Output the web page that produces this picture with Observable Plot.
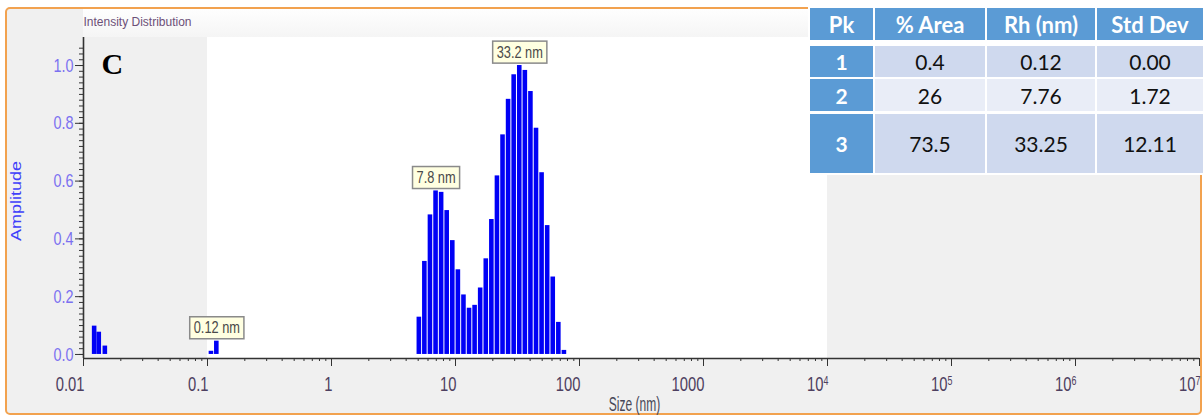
<!DOCTYPE html>
<html><head><meta charset="utf-8">
<script src="https://cdn.jsdelivr.net/npm/d3@7"></script>
<script src="https://cdn.jsdelivr.net/npm/@observablehq/plot@0.6"></script>
<style>
body{margin:0;background:#fff;}
#wrap{position:relative;width:1203px;height:417px;overflow:hidden;}
#frame{position:absolute;left:5px;top:7px;width:1197px;height:408px;box-sizing:border-box;border:2px solid #f2a24f;border-radius:5px;background:#f0f0f0;}
#strip{position:absolute;left:83px;top:9px;width:1117px;height:28px;background:linear-gradient(#fefefe,#f5f5f5);}
#chart{position:absolute;left:0;top:0;}
#tbl{position:absolute;left:808px;top:6px;width:395px;height:169px;background:#fff;}
.cell{position:absolute;display:flex;align-items:center;justify-content:center;font-family:Lato,"Open Sans",sans-serif;font-size:21px;color:#111;}
.hd{background:#5b9bd5;color:#fff;font-weight:bold;}
</style></head>
<body><div id="wrap"><div id="frame"></div><div id="strip"></div><div id="chart"></div><div id="tbl"></div></div>
<script>
// ---- data ----
const sizesNm = [0.0123, 0.0134, 0.0150, 0.1076, 0.1189,
  5.11, 5.66, 6.28, 6.97, 7.73, 8.57, 9.51, 10.55, 11.70, 12.98, 14.39, 15.96, 17.71, 19.64,
  21.79, 24.17, 26.80, 29.73, 32.98, 36.58, 40.57, 45.01, 49.92, 55.37, 61.42, 68.13, 75.56];
const amplitude = [0.098, 0.077, 0.029, 0.011, 0.046,
  0.129, 0.322, 0.483, 0.566, 0.561, 0.498, 0.394, 0.293, 0.206, 0.160, 0.170, 0.230, 0.331, 0.467,
  0.618, 0.760, 0.883, 0.968, 1.000, 0.983, 0.910, 0.783, 0.629, 0.446, 0.268, 0.111, 0.014];
const peakLabelSize = [0.1189, 6.97, 32.98];
const peakLabelAmp = [0.046, 0.566, 1.0];
const peakLabelText = ["0.12 nm", "7.8 nm", "33.2 nm"];
const xMajorTicks = [0.01, 0.1, 1, 10, 100, 1000, 1e4, 1e5, 1e6, 1e7];
const xTickLabels = ["0.01", "0.1", "1", "10", "100", "1000", "10^4", "10^5", "10^6", "10^7"];
const yMajorTicks = [0, 0.2, 0.4, 0.6, 0.8, 1.0];
const yTickLabels = ["0.0", "0.2", "0.4", "0.6", "0.8", "1.0"];
const whiteBand = [{x1: 0.1, x2: 1e4}];
const tableHeader = ["Pk", "% Area", "Rh (nm)", "Std Dev"];
const peakIds = ["1", "2", "3"];
const peakArea = ["0.4", "26", "73.5"];
const peakRh = ["0.12", "7.76", "33.25"];
const peakStd = ["0.00", "1.72", "12.11"];

// ---- chart ----
const xDomain = [0.01, 1e7];
const yDomain = [-0.014, 1.097];
const halfBin = Math.pow(10, 0.0225);
const bars = sizesNm.map((s, i) => ({size: s, amp: amplitude[i]}));
const peaks = peakLabelSize.map((s, i) => ({size: s, amp: peakLabelAmp[i], label: peakLabelText[i]}));
const xMinor = [];
for (let e = -2; e < 7; e++) for (let m = 2; m <= 9; m++) xMinor.push(m * Math.pow(10, e));
const yMinor = d3.range(0, 54).map(i => i * 0.02);
const xFmt = new Map(xMajorTicks.map((t, i) => [t, xTickLabels[i]]));
const yFmt = new Map(yMajorTicks.map((t, i) => [t, yTickLabels[i]]));

const svg = Plot.plot({
  width: 1203, height: 417,
  marginLeft: 83, marginRight: 4, marginTop: 37, marginBottom: 59,
  style: {background: "transparent", fontFamily: "'Liberation Sans', Arial, sans-serif", overflow: "visible"},
  x: {type: "log", domain: xDomain, label: null},
  y: {domain: yDomain, label: null},
  marks: [
    Plot.rect(whiteBand, {x1: "x1", x2: "x2", fill: "#ffffff"}),
    Plot.rectY(bars, {x1: d => d.size / halfBin, x2: d => d.size * halfBin, y: "amp", fill: "#0000f6", insetLeft: 0.5, insetRight: 0.5}),
    Plot.axisX(xMinor, {tickSize: 3, tickFormat: () => "", label: null, stroke: "#333"}),
    Plot.axisX(xMajorTicks, {tickSize: 8, tickPadding: 10, tickFormat: d => xFmt.get(d), textAnchor: "end", fontSize: 20, fill: "#4e4060", stroke: "#333", label: null}),
    Plot.axisY(yMinor, {tickSize: 4, tickFormat: () => "", label: null, stroke: "#333"}),
    Plot.axisY(yMajorTicks, {tickSize: 8, tickPadding: 2, tickFormat: d => yFmt.get(d), fontSize: 19, fill: "#7b70f0", stroke: "#333", label: null}),
    Plot.ruleX([xDomain[0]], {stroke: "#333", strokeWidth: 1.6}),
    Plot.ruleY([yDomain[0]], {stroke: "#333", strokeWidth: 1.6}),
    Plot.text(peaks, {x: "size", y: "amp", text: "label", dy: -13, fontSize: 16, fill: "#4a4a4a"}),
    Plot.text(["Size (nm)"], {text: d => d, frameAnchor: "bottom", textAnchor: "middle", lineAnchor: "middle", dx: -7, dy: 46, fontSize: 20, fill: "#474757"}),
    Plot.text(["Amplitude"], {text: d => d, frameAnchor: "left", textAnchor: "middle", lineAnchor: "middle", rotate: -90, dx: -67, dy: 3, fontSize: 18, fill: "#4040fa"}),
    Plot.text(["C"], {text: d => d, frameAnchor: "top-left", dx: 18, dy: 15, lineAnchor: "top", textAnchor: "start", fontSize: 30, fontWeight: "bold", fontFamily: "'Liberation Serif', 'Times New Roman', serif", fill: "#000"}),
    Plot.text(["Intensity Distribution"], {text: d => d, frameAnchor: "top-left", lineAnchor: "middle", textAnchor: "start", dy: -15, fontSize: 12, fill: "#6c5078"})
  ]
});
document.getElementById("chart").appendChild(svg);

// condensed look of the original fonts
function squeeze(el, extra) {
  const t = el.getAttribute("transform") || "";
  el.setAttribute("transform", (t + " " + extra).trim());
}
const allText = Array.from(svg.querySelectorAll("text"));
allText.forEach(el => {
  const s = el.textContent;
  if (xTickLabels.includes(s)) {
    if (s.includes("^")) {
      const [b, p] = s.split("^");
      el.textContent = "";
      const t1 = document.createElementNS("http://www.w3.org/2000/svg", "tspan"); t1.textContent = b;
      const t2 = document.createElementNS("http://www.w3.org/2000/svg", "tspan"); t2.textContent = p;
      t2.setAttribute("dy", "-0.45em"); t2.setAttribute("font-size", "0.6em");
      el.appendChild(t1); el.appendChild(t2);
    }
    squeeze(el, "translate(1,0) scale(0.74,1)");
  } else if (yTickLabels.includes(s)) {
    squeeze(el, "scale(0.76,1)");
  } else if (s === "Size (nm)") {
    squeeze(el, "scale(0.6,1)");
  } else if (s === "Amplitude") {
    squeeze(el, "scale(1,0.86)");
  } else if (peakLabelText.includes(s)) {
    squeeze(el, "scale(0.8,1)");
  }
});
// boxes behind peak labels
const sr = svg.getBoundingClientRect();
const peakTexts = allText.filter(el => peakLabelText.includes(el.textContent));
if (peakTexts.length) {
  const parentG = peakTexts[0].parentNode;
  const g = document.createElementNS("http://www.w3.org/2000/svg", "g");
  peakTexts.forEach(el => {
    const r = el.getBoundingClientRect();
    const rect = document.createElementNS("http://www.w3.org/2000/svg", "rect");
    const cy = (r.top + r.bottom) / 2 - sr.top;
    rect.setAttribute("x", r.left - sr.left - 4);
    rect.setAttribute("y", cy - 11);
    rect.setAttribute("width", r.width + 8);
    rect.setAttribute("height", 22);
    rect.setAttribute("fill", "#ffffe1");
    rect.setAttribute("stroke", "#8a8a8a");
    rect.setAttribute("stroke-width", "1.5");
    g.appendChild(rect);
  });
  let top = parentG;
  while (top.parentNode && top.parentNode !== svg) top = top.parentNode;
  svg.insertBefore(g, top);
}

// ---- table ----
const cols = [[810, 873], [875, 985], [987, 1095], [1097, 1203]];
const rows = [[8, 40], [46, 77], [79, 111], [114, 173]];
const rowFill = ["#cfd9ee", "#e9edf7", "#cfd9ee"];
const tbl = document.getElementById("tbl");
const tableRows = [tableHeader].concat(peakIds.map((p, i) => [p, peakArea[i], peakRh[i], peakStd[i]]));
tableRows.forEach((row, ri) => {
  row.forEach((txt, ci) => {
    const d = document.createElement("div");
    d.className = "cell" + ((ri === 0 || ci === 0) ? " hd" : "");
    d.style.left = (cols[ci][0] - 808) + "px";
    d.style.width = (cols[ci][1] - cols[ci][0]) + "px";
    d.style.top = (rows[ri][0] - 6) + "px";
    d.style.height = (rows[ri][1] - rows[ri][0]) + "px";
    if (ri === 0) d.style.fontSize = "22px";
    if (!(ri === 0 || ci === 0)) d.style.background = rowFill[ri - 1];
    d.textContent = txt;
    tbl.appendChild(d);
  });
});
</script>
</body></html>
